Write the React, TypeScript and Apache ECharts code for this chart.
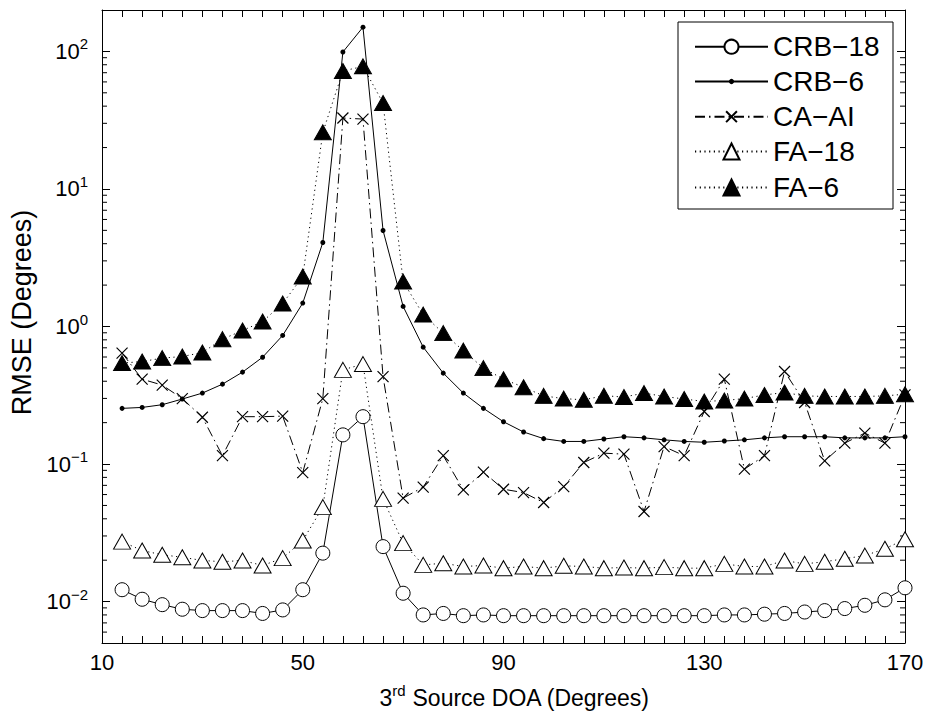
import React, { useEffect, useRef } from "react";
import * as echarts from "echarts";

// 3rd source DOA (degrees)
const xDoa = [14, 18, 22, 26, 30, 34, 38, 42, 46, 50, 54, 58, 62, 66, 70, 74, 78, 82, 86, 90,
  94, 98, 102, 106, 110, 114, 118, 122, 126, 130, 134, 138, 142, 146, 150, 154, 158, 162, 166, 170];

const crb18 = [0.0122, 0.0104, 0.0095, 0.0088, 0.0086, 0.0086, 0.0086, 0.0082, 0.0087, 0.0122,
  0.0225, 0.163, 0.221, 0.0251, 0.0115, 0.0080, 0.0082, 0.0079, 0.0080, 0.0079,
  0.0079, 0.0079, 0.0079, 0.0079, 0.0079, 0.0079, 0.0079, 0.0079, 0.0079, 0.0079,
  0.0080, 0.0080, 0.0081, 0.0082, 0.0084, 0.0086, 0.0089, 0.0094, 0.0103, 0.0126];

const crb6 = [0.254, 0.258, 0.270, 0.297, 0.328, 0.381, 0.466, 0.598, 0.861, 1.48,
  4.08, 99, 150, 4.99, 1.40, 0.708, 0.458, 0.328, 0.254, 0.203,
  0.171, 0.153, 0.146, 0.146, 0.152, 0.158, 0.155, 0.150, 0.146, 0.144,
  0.147, 0.150, 0.155, 0.158, 0.158, 0.158, 0.155, 0.155, 0.155, 0.158];

const caai = [0.641, 0.414, 0.375, 0.299, 0.219, 0.115, 0.221, 0.221, 0.223, 0.0867,
  0.299, 32.8, 32.2, 0.432, 0.0565, 0.068, 0.115, 0.0649, 0.0873, 0.0656,
  0.062, 0.0525, 0.0686, 0.1026, 0.120, 0.118, 0.0452, 0.134, 0.115, 0.241,
  0.414, 0.0918, 0.115, 0.471, 0.280, 0.1054, 0.142, 0.168, 0.142, 0.318];

const fa18 = [0.0273, 0.0235, 0.0219, 0.0210, 0.0199, 0.0195, 0.0199, 0.0183, 0.0207, 0.0278,
  0.0486, 0.484, 0.533, 0.0558, 0.0266, 0.0185, 0.0190, 0.0180, 0.0183, 0.0175,
  0.0180, 0.0175, 0.0182, 0.0180, 0.0175, 0.0177, 0.0175, 0.0178, 0.0175, 0.0175,
  0.0188, 0.0180, 0.0180, 0.0199, 0.0188, 0.0195, 0.0205, 0.0216, 0.0242, 0.0284];

const fa6 = [0.542, 0.556, 0.589, 0.605, 0.647, 0.809, 0.935, 1.086, 1.47, 2.31,
  25.8, 72, 77.8, 42.1, 2.12, 1.22, 0.895, 0.668, 0.498, 0.414,
  0.362, 0.313, 0.299, 0.293, 0.314, 0.307, 0.328, 0.310, 0.297, 0.285,
  0.290, 0.299, 0.318, 0.331, 0.313, 0.310, 0.310, 0.310, 0.313, 0.322];

const seriesNames = ["CRB\u221218", "CRB\u22126", "CA\u2212AI", "FA\u221218", "FA\u22126"];

// axis ticks
const xMajorLabels = [10, 50, 90, 130, 170];
const yMinorTicks = [0.006, 0.007, 0.008, 0.009,
  0.02, 0.03, 0.04, 0.05, 0.06, 0.07, 0.08, 0.09,
  0.2, 0.3, 0.4, 0.5, 0.6, 0.7, 0.8, 0.9,
  2, 3, 4, 5, 6, 7, 8, 9,
  20, 30, 40, 50, 60, 70, 80, 90];

const FONT = "'Liberation Sans', Arial, Helvetica, sans-serif";

function pairs(ys: number[]) {
  return xDoa.map((x, i) => [x, ys[i]]);
}

function yLabel(v: number) {
  const l = Math.log10(v);
  const e = Math.round(l);
  if (Math.abs(l - e) > 1e-6) return "";
  const s = e < 0 ? "\u2212" + -e : String(e);
  return `{b|10}{s|${s}}`;
}

export default function App() {
  const ref = useRef<HTMLDivElement>(null);
  useEffect(() => {
    document.body.style.margin = "0";
    const chart = echarts.init(ref.current!, null, { renderer: "svg" });
    const axisCommonX = {
      type: "value" as const,
      min: 10,
      max: 170,
      interval: 4,
      axisLine: { show: true, onZero: false, lineStyle: { color: "#000", width: 1 } },
      axisTick: { show: true, inside: true, length: 7, lineStyle: { color: "#000", width: 1 } },
      splitLine: { show: false },
    };
    const axisCommonY = {
      type: "log" as const,
      logBase: 10,
      min: 0.005,
      max: 200,
      axisLine: { show: true, onZero: false, lineStyle: { color: "#000", width: 1 } },
      axisTick: { show: true, inside: true, length: 8, lineStyle: { color: "#000", width: 1 } },
      splitLine: { show: false },
    };
    const rowCenters = [46.7, 81.5, 116.7, 151.5, 187.5];
    const legendIH = [17.5, 6.5, 13.5, 20, 20];
    const legendTextH = 28;
    const option: any = {
      animation: false,
      backgroundColor: "#fff",
      textStyle: { fontFamily: FONT, color: "#000" },
      grid: { left: 102, right: 24, top: 10, bottom: 79, containLabel: false },
      xAxis: [
        {
          ...axisCommonX,
          position: "bottom",
          name: "{b|3}{s|rd}{b| Source DOA (Degrees)}",
          nameLocation: "middle",
          nameGap: 40,
          nameTextStyle: {
            color: "#000",
            fontSize: 23,
            padding: [0, 0, 0, 22],
            rich: {
              b: { fontSize: 23, fontFamily: FONT, color: "#000", lineHeight: 30 },
              s: { fontSize: 15, fontFamily: FONT, color: "#000", verticalAlign: "top", lineHeight: 15 },
            },
          },
          axisLabel: {
            show: true,
            margin: 8,
            fontSize: 22,
            color: "#000",
            fontFamily: FONT,
            formatter: (v: number) => (xMajorLabels.includes(Math.round(v)) ? String(Math.round(v)) : ""),
          },
        },
        { ...axisCommonX, position: "top", axisLabel: { show: false } },
      ],
      yAxis: [
        {
          ...axisCommonY,
          position: "left",
          name: "RMSE (Degrees)",
          nameLocation: "middle",
          nameGap: 62,
          nameTextStyle: { fontSize: 27, color: "#000", fontFamily: FONT, padding: [0, 0, 0, 28] },
          axisLabel: {
            show: true,
            margin: 14,
            fontSize: 22,
            color: "#000",
            fontFamily: FONT,
            showMinLabel: false,
            showMaxLabel: false,
            formatter: yLabel,
            rich: {
              b: { fontSize: 22, fontFamily: FONT, color: "#000", lineHeight: 30 },
              s: { fontSize: 15, fontFamily: FONT, color: "#000", verticalAlign: "top", lineHeight: 15 },
            },
          },
        },
        { ...axisCommonY, position: "right", axisLabel: { show: false } },
      ],
      legend: seriesNames.map((n, i) => ({
        data: [n],
        left: 694,
        top: rowCenters[i] - Math.max(legendIH[i], legendTextH) / 2,
        orient: "vertical",
        padding: 0,
        itemWidth: 73,
        itemHeight: legendIH[i],
        selectedMode: false,
        textStyle: { fontSize: 28, lineHeight: legendTextH, color: "#000", fontFamily: FONT },
        z: 5,
      })),
      graphic: [
        {
          type: "rect",
          z: 3,
          shape: { x: 678, y: 22, width: 215, height: 187 },
          style: { fill: "#fff", stroke: "#000", lineWidth: 1 },
          silent: true,
        },
      ],
      series: [
        {
          type: "custom",
          name: "minorTicks",
          silent: true,
          clip: false,
          data: yMinorTicks.map((v) => [10, v]),
          renderItem: (params: any, api: any) => {
            const v = api.value(1);
            const pL = api.coord([10, v]);
            const pR = api.coord([170, v]);
            return {
              type: "group",
              children: [
                { type: "line", shape: { x1: pL[0], y1: pL[1], x2: pL[0] + 5, y2: pL[1] }, style: { stroke: "#000", lineWidth: 1 } },
                { type: "line", shape: { x1: pR[0], y1: pR[1], x2: pR[0] - 5, y2: pR[1] }, style: { stroke: "#000", lineWidth: 1 } },
              ],
            };
          },
        },
        {
          name: seriesNames[0],
          type: "line",
          data: pairs(crb18),
          symbol: "circle",
          symbolSize: 14,
          lineStyle: { color: "#000", width: 1, type: "solid" },
          itemStyle: { color: "#fff", borderColor: "#000", borderWidth: 1 },
          emphasis: { disabled: true },
        },
        {
          name: seriesNames[1],
          type: "line",
          data: pairs(crb6),
          symbol: "circle",
          symbolSize: 5,
          lineStyle: { color: "#000", width: 1, type: "solid" },
          itemStyle: { color: "#000", borderWidth: 0 },
          emphasis: { disabled: true },
        },
        {
          name: seriesNames[2],
          type: "line",
          data: pairs(caai),
          symbol: "path://M0,0L10,10M10,0L0,10",
          symbolSize: 11,
          lineStyle: { color: "#000", width: 1, type: [10, 4, 1.5, 4] },
          itemStyle: { color: "rgba(0,0,0,0)", borderColor: "#000", borderWidth: 1.2 },
          emphasis: { disabled: true },
        },
        {
          name: seriesNames[3],
          type: "line",
          data: pairs(fa18),
          symbol: "triangle",
          symbolSize: [17, 15],
          lineStyle: { color: "#000", width: 1, type: [1.2, 3.5] },
          itemStyle: { color: "#fff", borderColor: "#000", borderWidth: 1 },
          emphasis: { disabled: true },
        },
        {
          name: seriesNames[4],
          type: "line",
          data: pairs(fa6),
          symbol: "triangle",
          symbolSize: [17, 15],
          lineStyle: { color: "#000", width: 1, type: [1.2, 3.5] },
          itemStyle: { color: "#000", borderColor: "#000", borderWidth: 1 },
          emphasis: { disabled: true },
        },
      ],
    };
    chart.setOption(option);
    return () => chart.dispose();
  }, []);
  return <div ref={ref} style={{ width: 929, height: 722, position: "absolute", left: 0, top: 0 }} />;
}
